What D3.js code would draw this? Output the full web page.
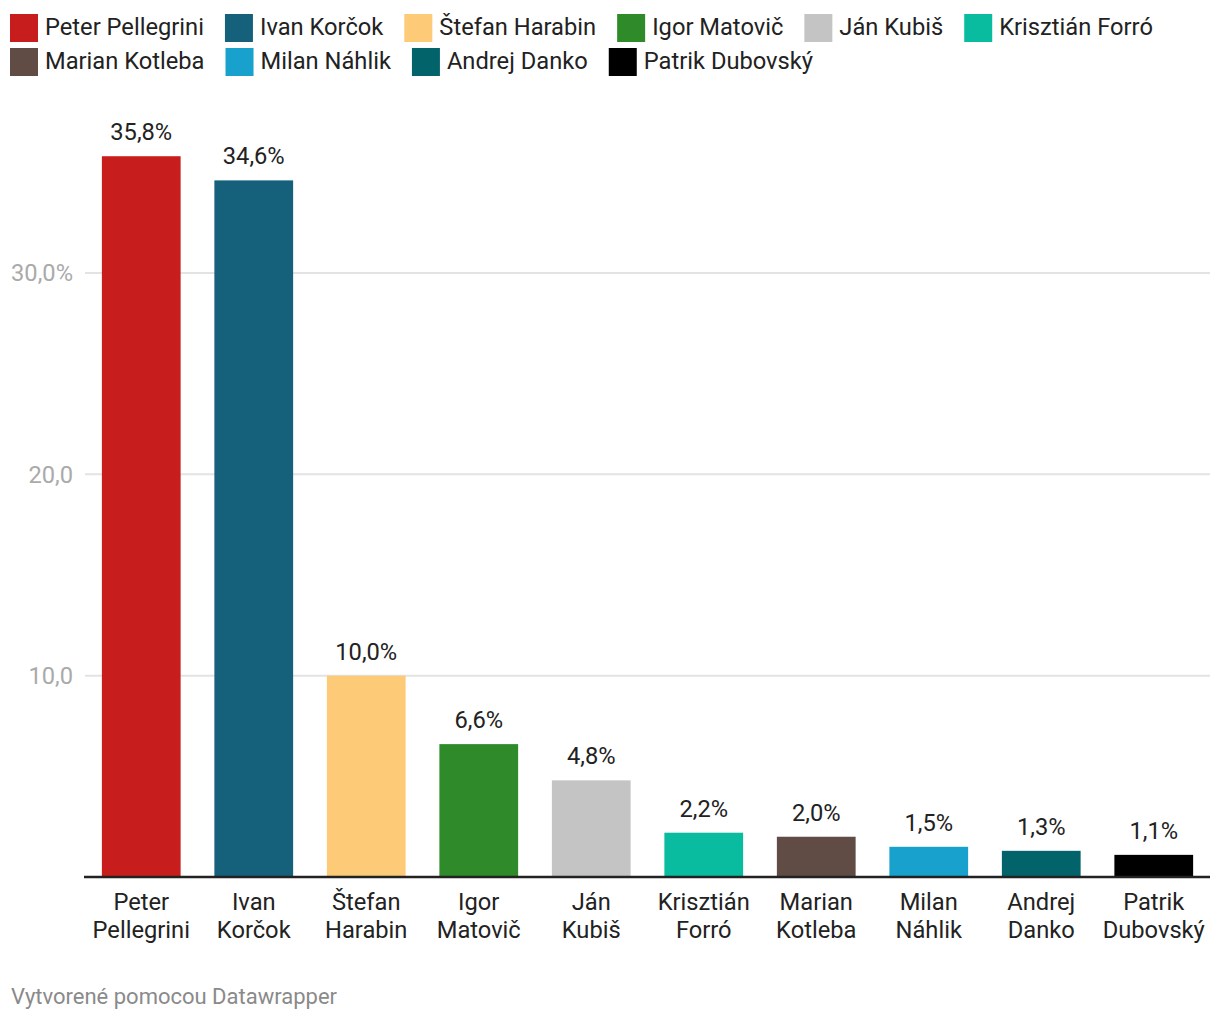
<!DOCTYPE html>
<html><head><meta charset="utf-8">
<script src="https://cdn.jsdelivr.net/npm/d3@7"></script>
<style>
body{margin:0;background:#fff;font-family:Roboto,"Noto Sans",sans-serif;}
svg text{font-family:Roboto,"Noto Sans",sans-serif;}
</style></head><body>
<svg id="c" width="1220" height="1020"></svg>
<script>
const categories = ["Peter Pellegrini","Ivan Korčok","Štefan Harabin","Igor Matovič","Ján Kubiš","Krisztián Forró","Marian Kotleba","Milan Náhlik","Andrej Danko","Patrik Dubovský"];
const labelLines = [["Peter","Pellegrini"],["Ivan","Korčok"],["Štefan","Harabin"],["Igor","Matovič"],["Ján","Kubiš"],["Krisztián","Forró"],["Marian","Kotleba"],["Milan","Náhlik"],["Andrej","Danko"],["Patrik","Dubovský"]];
const values = [35.8,34.6,10.0,6.6,4.8,2.2,2.0,1.5,1.3,1.1];
const colors = ["#c71e1d","#15607a","#fdca78","#2f8b29","#c4c4c4","#09bc9f","#614c45","#18a1cd","#02646a","#000000"];
const yTicks = [10,20,30];
const yTickLabels = ["10,0","20,0","30,0%"];
const legendRows = [[0,1,2,3,4,5],[6,7,8,9]];
const footer = "Vytvorené pomocou Datawrapper";

const FS = 23.7;
const svg = d3.select("#c");
const x = d3.scaleBand().domain(categories).range([85,1210]).paddingInner(0.3).paddingOuter(0.15);
const y = d3.scaleLinear().domain([0,30]).range([877,273]);

// legend
const leg = svg.append("g");
legendRows.forEach((row,ri)=>{
  let cx = 10;
  const cy = 14 + ri*34;
  row.forEach(i=>{
    leg.append("rect").attr("x",cx).attr("y",cy).attr("width",28).attr("height",28).attr("fill",colors[i]);
    const t = leg.append("text").attr("x",cx+35).attr("y",cy+13).attr("dy","0.35em")
      .attr("font-size",FS).attr("fill","#222").text(categories[i]);
    cx = cx + 35 + t.node().getComputedTextLength() + 21;
  });
});

// grid
const grid = svg.append("g");
grid.selectAll("line").data(yTicks).join("line")
  .attr("x1",85).attr("x2",1210).attr("y1",d=>y(d)).attr("y2",d=>y(d))
  .attr("stroke","#e3e3e3").attr("stroke-width",2);
svg.append("g").selectAll("text").data(yTicks).join("text")
  .attr("x",73).attr("y",d=>y(d)).attr("dy","0.35em").attr("text-anchor","end")
  .attr("font-size",FS).attr("fill","#aaaaaa").text((d,i)=>yTickLabels[i]);

// bars
svg.append("g").selectAll("rect").data(values).join("rect")
  .attr("x",(d,i)=>x(categories[i])).attr("width",x.bandwidth())
  .attr("y",d=>y(d)).attr("height",d=>y(0)-y(d)).attr("fill",(d,i)=>colors[i]);

// value labels
svg.append("g").selectAll("text").data(values).join("text")
  .attr("x",(d,i)=>x(categories[i])+x.bandwidth()/2).attr("y",d=>y(d)-16)
  .attr("text-anchor","middle").attr("font-size",FS).attr("fill","#222")
  .text(d=>d.toFixed(1).replace(".",",")+"%");

// baseline
svg.append("line").attr("x1",84).attr("x2",1210).attr("y1",y(0)).attr("y2",y(0))
  .attr("stroke","#222").attr("stroke-width",2.5);

// category labels
const cl = svg.append("g");
labelLines.forEach((lines,i)=>{
  const t = cl.append("text").attr("text-anchor","middle").attr("font-size",FS).attr("fill","#222");
  lines.forEach((ln,j)=>{
    t.append("tspan").attr("x",x(categories[i])+x.bandwidth()/2).attr("y",910+j*28).text(ln);
  });
});

svg.append("text").attr("x",11).attr("y",1004).attr("font-size",22).attr("fill","#8a8a8a").text(footer);
</script>
</body></html>
